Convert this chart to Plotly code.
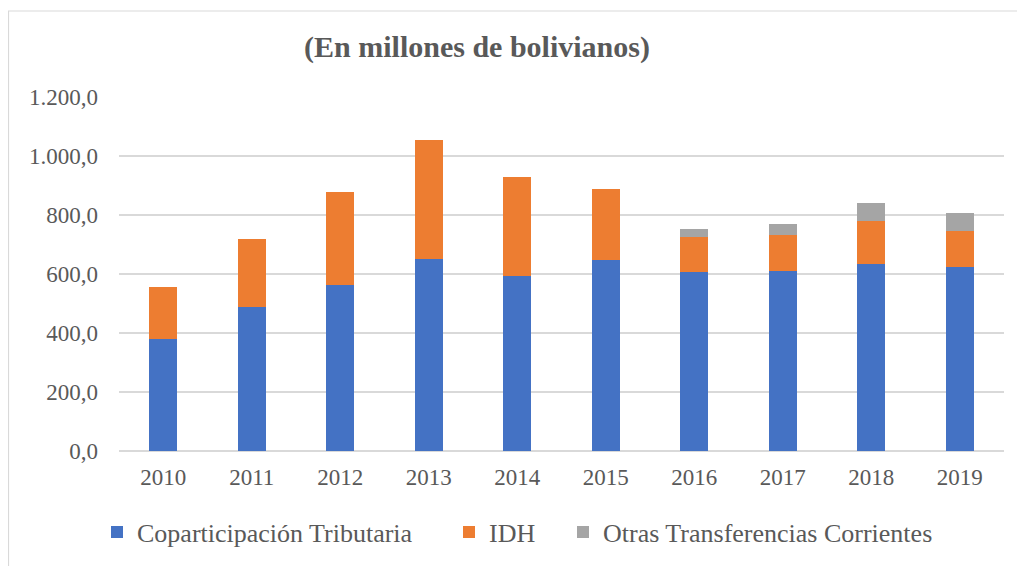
import plotly.graph_objects as go

years = ["2010", "2011", "2012", "2013", "2014", "2015", "2016", "2017", "2018", "2019"]
coparticipacion = [380, 487, 564, 651, 592, 646, 607, 610, 634, 624]
idh = [175, 233, 315, 403, 338, 243, 117, 121, 144, 123]
otras = [0, 0, 0, 0, 0, 0, 27, 38, 63, 59]

series_names = ["Coparticipación Tributaria", "IDH", "Otras Transferencias Corrientes"]
colors = ["#4472C4", "#ED7D31", "#A5A5A5"]
y_ticks = [0, 200, 400, 600, 800, 1000, 1200]

FONT = "Liberation Serif, Times New Roman, serif"
TXT = "#595959"

fig = go.Figure()
for i, (name, vals) in enumerate(zip(series_names, [coparticipacion, idh, otras])):
    fig.add_trace(go.Bar(
        x=years, y=vals, name=name, marker_color=colors[i],
        marker_line_width=0, showlegend=True,
        legend="legend" if i == 0 else f"legend{i+1}",
    ))

# page body has an 8px margin; work in figure pixels = reference pixels - 8
OFF = 8
W, H = 1025 - OFF, 566 - OFF
L, R, T, B = 119 - OFF, 21, 97.3 - OFF, 114.7
pw = W - L - R
ph = H - T - B

def px_x(p):
    return (p - OFF - L) / pw

def px_y(p):
    return (H - B - (p - OFF)) / ph

def cx(p):
    return (p - OFF) / W

def cy(p):
    return 1 - (p - OFF) / H

leg_common = dict(orientation="h", xref="container", yref="container",
                  yanchor="middle", xanchor="left",
                  font=dict(family=FONT, size=26, color=TXT),
                  bgcolor="rgba(0,0,0,0)", borderwidth=0)

fig.update_layout(
    width=W, height=H,
    showlegend=True,
    barmode="stack", bargap=0.687,
    separators=",.",
    plot_bgcolor="white", paper_bgcolor="white",
    margin=dict(l=L, r=R, t=T, b=B, autoexpand=False),
    font=dict(family=FONT, color=TXT, size=22),
    title=dict(text="<b>(En millones de bolivianos)</b>", x=cx(477), xanchor="center",
               y=cy(46), yanchor="middle", xref="container", yref="container",
               font=dict(family=FONT, size=30, color=TXT)),
    legend=dict(x=cx(97), y=cy(532), **leg_common),
    legend2=dict(x=cx(449), y=cy(532), **leg_common),
    legend3=dict(x=cx(563), y=cy(532), **leg_common),
    xaxis=dict(showgrid=False, showline=False, ticks="",
               tickfont=dict(family=FONT, size=23, color=TXT), ticklabelstandoff=10),
    yaxis=dict(range=[0, 1200], tickvals=y_ticks, tickformat=",.1f",
               showgrid=True, gridcolor="#D9D9D9", gridwidth=1.6,
               zeroline=True, zerolinecolor="#D9D9D9", zerolinewidth=1.6,
               showline=False, ticks="",
               tickfont=dict(family=FONT, size=23, color=TXT), ticklabelstandoff=20),
    shapes=[dict(type="rect", xref="paper", yref="paper",
                 x0=px_x(8.5), x1=px_x(1040), y0=px_y(590), y1=px_y(11.3),
                 line=dict(color="#D9D9D9", width=1.2), fillcolor="rgba(0,0,0,0)",
                 layer="below")],
)

fig.write_html("out.html")
